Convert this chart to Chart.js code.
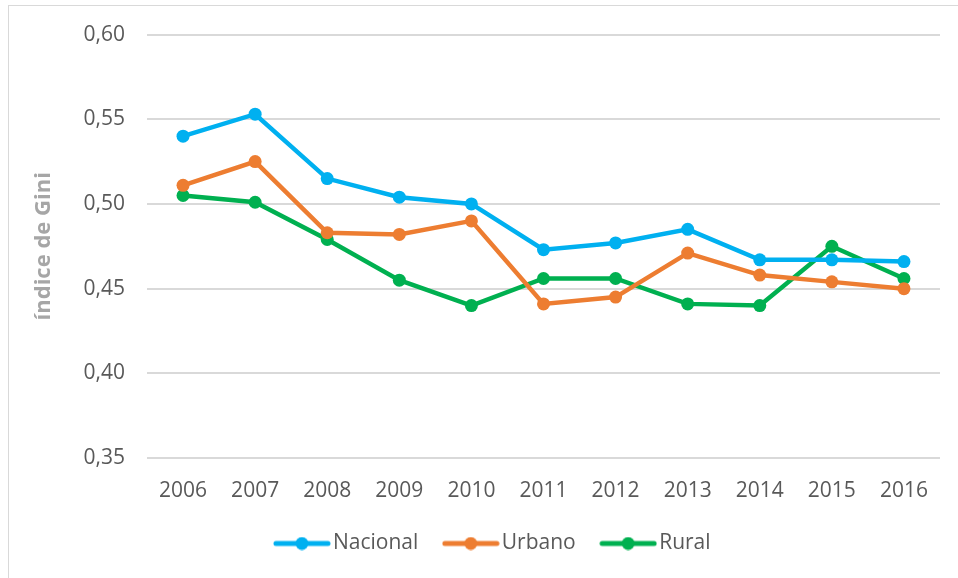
<!DOCTYPE html>
<html>
<head>
<meta charset="utf-8">
<script src="https://cdn.jsdelivr.net/npm/chart.js@4.4.1/dist/chart.umd.min.js"></script>
<style>
  body { margin: 0; background: #fff; }
  #wrap { position: relative; width: 958px; height: 578px; }
  #frame { position: absolute; left: 8px; top: 5px; width: 960px; height: 600px; border: 1px solid #d9d9d9; box-sizing: border-box; }
  canvas { position: absolute; left: 0; top: 0; }
</style>
</head>
<body>
<div id="wrap">
  <div id="frame"></div>
  <canvas id="chart" width="958" height="578"></canvas>
</div>
<script>
const years = ['2006','2007','2008','2009','2010','2011','2012','2013','2014','2015','2016'];
const nacional = [0.540, 0.553, 0.515, 0.504, 0.500, 0.473, 0.477, 0.485, 0.467, 0.467, 0.466];
const urbano   = [0.511, 0.525, 0.483, 0.482, 0.490, 0.441, 0.445, 0.471, 0.458, 0.454, 0.450];
const rural    = [0.505, 0.501, 0.479, 0.455, 0.440, 0.456, 0.456, 0.441, 0.440, 0.475, 0.456];

const FONT = "'Open Sans', sans-serif";

// legend marker: a short line with a dot, like the Excel legend
function marker(color) {
  const c = document.createElement('canvas');
  c.width = 58; c.height = 14;
  const g = c.getContext('2d');
  g.strokeStyle = color; g.lineWidth = 5; g.lineCap = 'round';
  g.beginPath(); g.moveTo(3, 7); g.lineTo(55, 7); g.stroke();
  g.fillStyle = color;
  g.beginPath(); g.arc(29, 7, 6.5, 0, Math.PI * 2); g.fill();
  return c;
}

function series(label, data, color) {
  return {
    label: label,
    data: data,
    borderColor: color,
    backgroundColor: color,
    borderWidth: 4.5,
    pointRadius: 6.5,
    pointHoverRadius: 6.5,
    pointBorderWidth: 0,
    tension: 0,
    legendMarker: marker(color)
  };
}

// nudge the legend row a bit right, the reference centres it on the plot area
const legendShift = {
  id: 'legendShift',
  afterLayout(chart) {
    chart.legend.left += 16;
    chart.legend.right += 16;
  }
};

const ctx = document.getElementById('chart');
new Chart(ctx, {
  type: 'line',
  data: {
    labels: years,
    datasets: [
      series('Nacional', nacional, '#00B0F0'),
      series('Urbano', urbano, '#ED7D31'),
      series('Rural', rural, '#00B050')
    ]
  },
  plugins: [legendShift],
  options: {
    responsive: false,
    animation: false,
    layout: { padding: { left: 20, right: 18, top: 34, bottom: 14 } },
    plugins: {
      tooltip: { enabled: false },
      legend: {
        position: 'bottom',
        labels: {
          usePointStyle: true,
          pointStyleWidth: 41,
          padding: 32,
          color: '#595959',
          font: { family: FONT, size: 21 },
          generateLabels: chart => chart.data.datasets.map((ds, i) => ({
            text: ds.label,
            pointStyle: ds.legendMarker,
            fontColor: '#595959',
            strokeStyle: ds.borderColor,
            fillStyle: ds.borderColor,
            lineWidth: 0,
            datasetIndex: i
          }))
        }
      }
    },
    scales: {
      x: {
        offset: true,
        grid: { display: false, drawTicks: false, offset: true },
        border: { display: false },
        ticks: { color: '#595959', font: { family: FONT, size: 21 }, padding: 20, maxRotation: 0 },
        afterFit: s => { s.height = 43; }
      },
      y: {
        min: 0.35,
        max: 0.60,
        grid: { color: '#d9d9d9', lineWidth: 2, drawTicks: false },
        border: { display: false },
        ticks: {
          stepSize: 0.05,
          padding: 22,
          color: '#595959',
          font: { family: FONT, size: 21 },
          callback: v => v.toFixed(2).replace('.', ',')
        },
        title: {
          display: true,
          text: 'índice de Gini',
          color: '#A6A6A6',
          font: { family: FONT, size: 22, weight: 'bold' },
          padding: { top: 11, bottom: 0 }
        },
        afterFit: s => { s.width = 127; }
      }
    }
  }
});
</script>
</body>
</html>
